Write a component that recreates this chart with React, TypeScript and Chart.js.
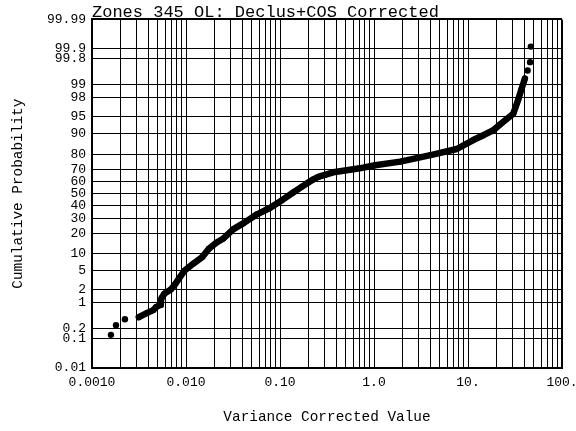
import React, { useEffect, useRef } from 'react';
import { Chart, registerables } from 'chart.js';

Chart.register(...registerables);

// Continuous part of the cumulative curve (value, cumulative probability %)
const curveX = [
  0.00315, 0.00382, 0.00449, 0.0048, 0.0053, 0.0054, 0.0055, 0.0059, 0.0069, 0.0077,
  0.0084, 0.0096, 0.012, 0.015, 0.0175, 0.021, 0.025, 0.032, 0.041, 0.057,
  0.078, 0.105, 0.138, 0.17, 0.2, 0.226, 0.255, 0.3, 0.385, 0.68, 1.03, 1.9,
  4.0, 7.6, 11.5, 14.6, 18.6, 21.9, 30.3, 34.3, 37.2, 40.3,
];
const curveP = [
  0.42, 0.54, 0.65, 0.78, 0.88, 1.1, 1.3, 1.65, 2.05, 2.7,
  3.5, 5.0, 6.8, 8.9, 12.0, 14.8, 17.0, 22.5, 26.5, 33.0,
  38.0, 44.5, 51.0, 55.8, 59.5, 62.0, 64.0, 65.6, 67.9, 70.4, 72.8, 75.3,
  79.5, 83.0, 87.5, 89.4, 91.2, 93.0, 95.6, 97.8, 98.75, 99.3,
];
// Isolated points at the tails
const tailX = [0.00159, 0.0018, 0.00224, 43.1, 45.7, 46.6];
const tailP = [0.13, 0.25, 0.37, 99.57, 99.75, 99.915];

const yTickProbs = [0.01, 0.1, 0.2, 1, 2, 5, 10, 20, 30, 40, 50, 60, 70, 80, 90, 95, 98, 99, 99.8, 99.9, 99.99];
const yTickLabels = ['0.01', '0.1', '0.2', '1', '2', '5', '10', '20', '30', '40', '50', '60', '70', '80', '90', '95', '98', '99', '99.8', '99.9', '99.99'];
const xDecades = [0.001, 0.01, 0.1, 1, 10, 100];
const xTickLabels = ['0.0010', '0.010', '0.10', '1.0', '10.', '100.'];
const xMinor = [1, 2, 3, 4, 5, 6, 7, 8, 9];

const titleText = 'Zones 345 OL: Declus+COS Corrected';
const xTitle = 'Variance Corrected Value';
const yTitle = 'Cumulative Probability';

const MONO = "'Liberation Mono', 'DejaVu Sans Mono', monospace";

function probit(p: number): number {
  const a = [-3.969683028665376e1, 2.209460984245205e2, -2.759285104469687e2, 1.38357751867269e2, -3.066479806614716e1, 2.506628277459239];
  const b = [-5.447609879822406e1, 1.615858368580409e2, -1.556989798598866e2, 6.680131188771972e1, -1.328068155288572e1];
  const c = [-7.784894002430293e-3, -3.223964580411365e-1, -2.400758277161838, -2.549732539343734, 4.374664141464968, 2.938163982698783];
  const d = [7.784695709041462e-3, 3.224671290700398e-1, 2.445134137142996, 3.754408661907416];
  const plow = 0.02425;
  const phigh = 1 - plow;
  if (p < plow) {
    const q = Math.sqrt(-2 * Math.log(p));
    return (((((c[0] * q + c[1]) * q + c[2]) * q + c[3]) * q + c[4]) * q + c[5]) /
      ((((d[0] * q + d[1]) * q + d[2]) * q + d[3]) * q + 1);
  }
  if (p <= phigh) {
    const q = p - 0.5;
    const r = q * q;
    return (((((a[0] * r + a[1]) * r + a[2]) * r + a[3]) * r + a[4]) * r + a[5]) * q /
      (((((b[0] * r + b[1]) * r + b[2]) * r + b[3]) * r + b[4]) * r + 1);
  }
  const q = Math.sqrt(-2 * Math.log(1 - p));
  return -(((((c[0] * q + c[1]) * q + c[2]) * q + c[3]) * q + c[4]) * q + c[5]) /
    ((((d[0] * q + d[1]) * q + d[2]) * q + d[3]) * q + 1);
}

export default function App() {
  const ref = useRef<HTMLCanvasElement | null>(null);

  useEffect(() => {
    if (!ref.current) return;
    const zMin = probit(yTickProbs[0] / 100);
    const zMax = probit(yTickProbs[yTickProbs.length - 1] / 100);
    const xMin = xDecades[0];
    const xMax = xDecades[xDecades.length - 1];

    const chart = new Chart(ref.current, {
      type: 'scatter',
      data: {
        datasets: [
          {
            label: 'curve',
            data: curveX.map((x, i) => ({ x, y: probit(curveP[i] / 100) })),
            showLine: true,
            borderColor: '#000',
            backgroundColor: '#000',
            borderWidth: 6.5,
            borderJoinStyle: 'round',
            borderCapStyle: 'round',
            pointRadius: 3,
            pointBorderWidth: 0,
            pointBackgroundColor: '#000',
            tension: 0,
          },
          {
            label: 'tails',
            data: tailX.map((x, i) => ({ x, y: probit(tailP[i] / 100) })),
            showLine: false,
            pointRadius: 3.2,
            pointBorderWidth: 0,
            pointBackgroundColor: '#000',
            backgroundColor: '#000',
          },
        ],
      },
      options: {
        responsive: false,
        animation: false,
        events: [],
        layout: { padding: { left: 0, right: 14, top: 0, bottom: 0 } },
        plugins: {
          legend: { display: false },
          tooltip: { enabled: false },
          title: {
            display: true,
            text: titleText,
            align: 'start',
            fullSize: false,
            color: '#000',
            font: { family: MONO, size: 17, weight: 'normal', lineHeight: 0.8 },
            padding: { top: 5.6, bottom: 0.2 },
          },
        },
        scales: {
          x: {
            type: 'logarithmic',
            min: xMin,
            max: xMax,
            afterBuildTicks: (s: any) => {
              const t: any[] = [];
              for (let i = 0; i < xDecades.length - 1; i++) {
                for (const m of xMinor) t.push({ value: xDecades[i] * m });
              }
              t.push({ value: xMax });
              s.ticks = t;
            },
            afterFit: (s: any) => {
              s.height = 63;
              s.paddingLeft = 0;
              s.paddingRight = 0;
            },
            ticks: {
              autoSkip: false,
              maxRotation: 0,
              minRotation: 0,
              padding: 7,
              color: '#000',
              font: { family: MONO, size: 13 },
              callback: (value: any) => {
                const v = Number(value);
                const idx = xDecades.findIndex((d) => Math.abs(v / d - 1) < 1e-6);
                return idx >= 0 ? xTickLabels[idx] : '';
              },
            },
            grid: {
              color: '#000',
              lineWidth: (ctx: any) => {
                const v = ctx.tick ? ctx.tick.value : 0;
                return Math.abs(v / xMax - 1) < 1e-6 ? 2 : 1;
              },
              drawTicks: false,
            },
            border: { display: true, color: '#000', width: 2 },
            title: {
              display: true,
              text: xTitle,
              color: '#000',
              font: { family: MONO, size: 14.4 },
              padding: { top: 0, bottom: 5.4 },
            },
          },
          y: {
            type: 'linear',
            min: zMin,
            max: zMax,
            afterBuildTicks: (s: any) => {
              s.ticks = yTickProbs.map((p) => ({ value: probit(p / 100) }));
            },
            afterFit: (s: any) => {
              s.width = 92;
            },
            ticks: {
              autoSkip: false,
              padding: 6,
              color: '#000',
              font: { family: MONO, size: 13 },
              callback: (_v: any, i: number) => yTickLabels[i],
            },
            grid: {
              color: '#000',
              lineWidth: (ctx: any) => (ctx.index === yTickProbs.length - 1 ? 2 : 1),
              drawTicks: false,
            },
            border: { display: true, color: '#000', width: 2 },
            title: {
              display: true,
              text: yTitle,
              color: '#000',
              font: { family: MONO, size: 14.4 },
              padding: { top: 10, bottom: 0 },
            },
          },
        },
      },
    } as any);
    return () => chart.destroy();
  }, []);

  return (
    <div style={{ position: 'absolute', left: 0, top: 0, width: 576, height: 431, background: '#fff' }}>
      <canvas ref={ref} width={576} height={431} style={{ display: 'block' }} />
    </div>
  );
}
